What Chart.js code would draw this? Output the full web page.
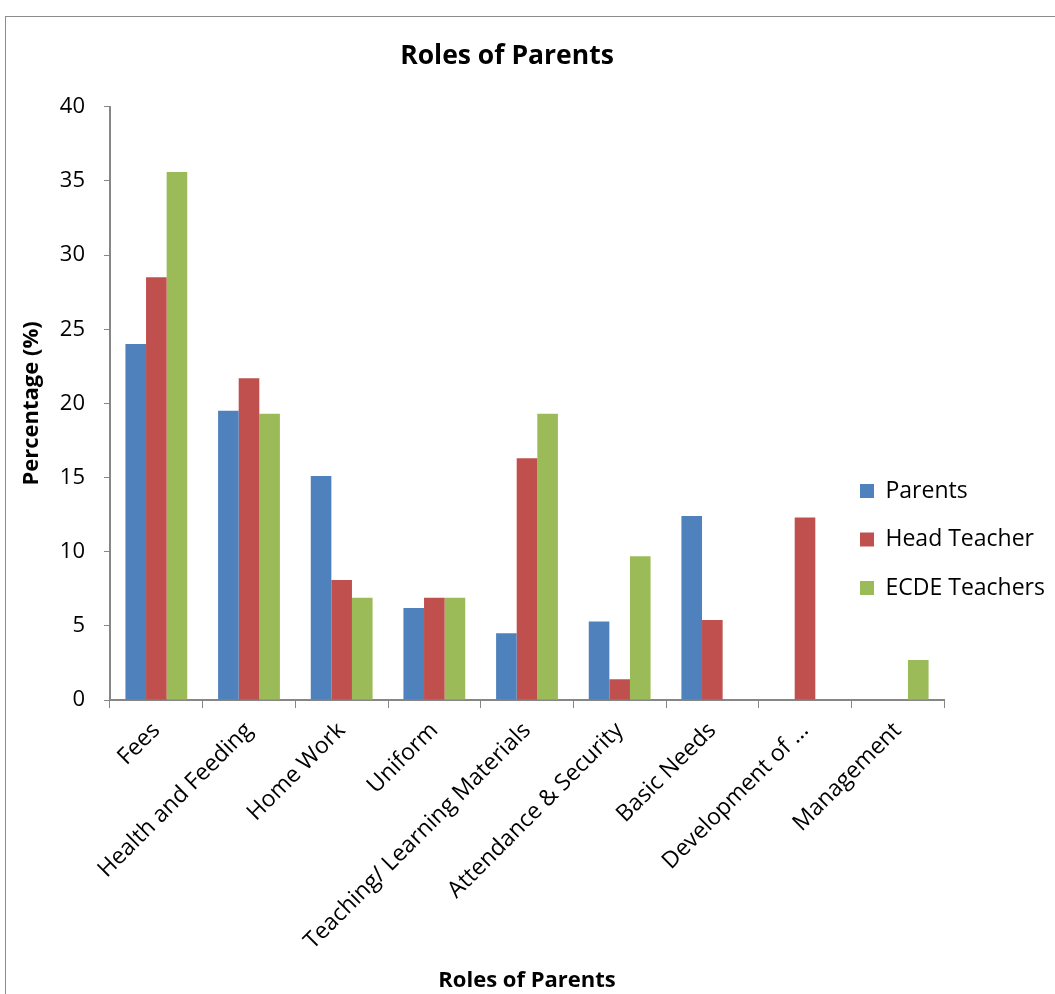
<!DOCTYPE html>
<html>
<head>
<meta charset="utf-8">
<script src="https://cdn.jsdelivr.net/npm/chart.js@4/dist/chart.umd.min.js"></script>
<style>
  html, body { margin: 0; padding: 0; background: #ffffff; }
  #wrap { position: relative; width: 1055px; height: 994px; overflow: hidden; }
  #frame { position: absolute; left: 5px; top: 16px; width: 1200px; height: 1200px; border: 1px solid #8c8c8c; box-sizing: border-box; }
  canvas { position: absolute; left: 0; top: 0; }
</style>
</head>
<body>
<div id="wrap">
  <div id="frame"></div>
  <canvas id="c" width="1055" height="994"></canvas>
</div>
<script>
const categories = ["Fees", "Health and Feeding", "Home Work", "Uniform", "Teaching/ Learning Materials", "Attendance & Security", "Basic Needs", "Development of ...", "Management"];
const parents = [24.0, 19.5, 15.1, 6.2, 4.5, 5.3, 12.4, null, null];
const headTeacher = [28.5, 21.7, 8.1, 6.9, 16.3, 1.4, 5.4, 12.3, null];
const ecdeTeachers = [35.6, 19.3, 6.9, 6.9, 19.3, 9.7, null, null, 2.7];
const yTicks = [0, 5, 10, 15, 20, 25, 30, 35, 40];

const FONT = "'Open Sans', 'Liberation Sans', sans-serif";

const placeBlocks = {
  id: 'placeBlocks',
  afterLayout(chart) {
    const lg = chart.legend;
    if (lg) {
      lg.left = 834.5; lg.right = 1055; lg.width = 220.5;
      lg.top = 454; lg.bottom = 700; lg.height = 246;
    }
    const tb = chart.titleBlock;
    if (tb) { tb.left = 0; tb.right = 1014; tb.width = 1014; }
  }
};

new Chart(document.getElementById('c'), {
  type: 'bar',
  data: {
    labels: categories,
    datasets: [
      { label: 'Parents', data: parents, backgroundColor: '#4F81BD' },
      { label: 'Head Teacher', data: headTeacher, backgroundColor: '#C0504D' },
      { label: 'ECDE Teachers', data: ecdeTeachers, backgroundColor: '#9BBB59' }
    ]
  },
  options: {
    responsive: false,
    animation: false,
    devicePixelRatio: 1,
    layout: { padding: { left: 5, right: 110, top: 16, bottom: 0 } },
    datasets: { bar: { categoryPercentage: 0.667, barPercentage: 1.0, borderWidth: 0 } },
    plugins: {
      tooltip: { enabled: false },
      title: {
        display: true, text: 'Roles of Parents', color: '#000',
        font: { family: FONT, size: 26.5, weight: 'bold' },
        padding: { top: 25, bottom: 34 }
      },
      legend: {
        display: true, position: 'right', align: 'start', maxWidth: 1,
        labels: {
          color: '#000', boxWidth: 14, boxHeight: 14, padding: 25.5,
          font: { family: FONT, size: 23 }
        }
      }
    },
    scales: {
      x: {
        grid: { display: true, drawOnChartArea: false, drawTicks: true, tickLength: 8, color: '#868686', offset: true },
        border: { display: true, color: '#868686', width: 2 },
        ticks: { color: '#000', font: { family: FONT, size: 23 }, minRotation: 45, maxRotation: 45, autoSkip: false, padding: 9 },
        title: { display: true, text: 'Roles of Parents', color: '#000', font: { family: FONT, size: 22, weight: 'bold' }, padding: { top: 0, bottom: 0 } },
        afterFit(scale) { scale.height = 294; }
      },
      y: {
        min: 0, max: 40,
        afterBuildTicks(scale) { scale.ticks = yTicks.map(v => ({ value: v })); },
        grid: { display: true, drawOnChartArea: false, drawTicks: true, tickLength: 6, color: '#868686' },
        border: { display: true, color: '#868686', width: 2 },
        ticks: { color: '#000', font: { family: FONT, size: 22 }, padding: 19 },
        title: { display: true, text: 'Percentage (%)', color: '#000', font: { family: FONT, size: 22, weight: 'bold' }, padding: { top: 14, bottom: 0 } },
        afterFit(scale) { scale.width = 105; }
      }
    }
  },
  plugins: [placeBlocks]
});
</script>
</body>
</html>
